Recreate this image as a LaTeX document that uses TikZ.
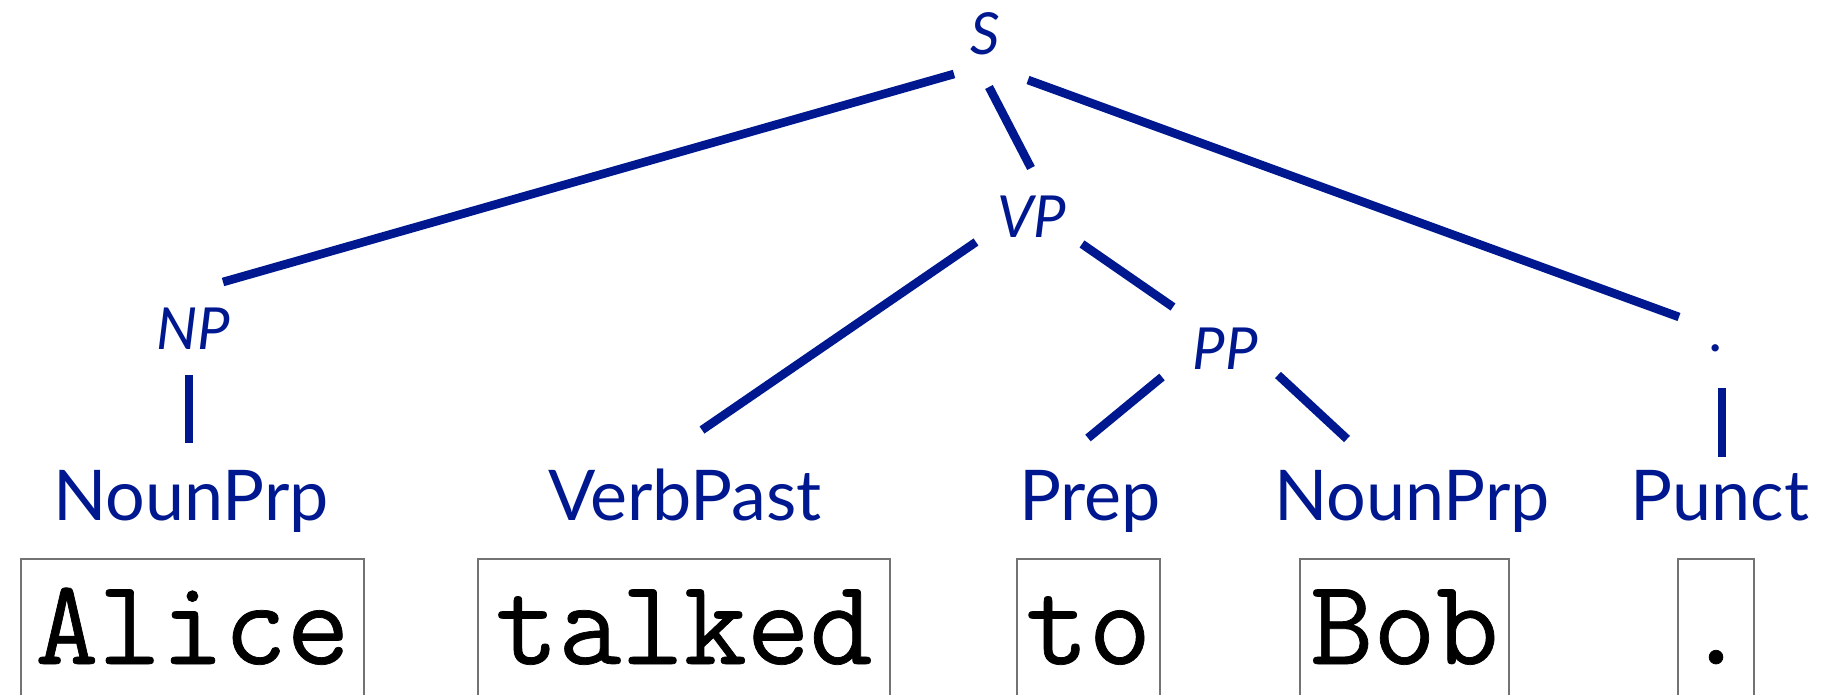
\documentclass[tikz,border=0pt]{standalone}
\usepackage{fontspec}
\setmainfont{Lato}
\newfontfamily\wordfont{Latin Modern Mono}[FakeBold=0.6]
\usepackage{xcolor}
\usepackage{tikz}
\usetikzlibrary{calc}
\definecolor{treeblue}{RGB}{0,24,143}

\begin{document}
\begin{tikzpicture}[
    x=0.5pt, y=-0.5pt,
    phrase/.style={anchor=base,inner sep=0pt,text=treeblue,
        font=\itshape\fontsize{29}{29}\selectfont},
    tag/.style={anchor=base,inner sep=0pt,text=treeblue,
        font=\fontsize{35}{35}\selectfont},
    word/.style={draw=black!55,line width=1pt,anchor=base,inner sep=0pt,
        text height=52.5pt,text depth=40pt,font=\wordfont\fontsize{61}{61}\selectfont},
    edge/.style={draw=treeblue,line width=4.3pt}
]
\useasboundingbox (0,0) rectangle (1837,695);
\clip (0,0) rectangle (1837,695);

% phrase labels
\node[phrase] (S) at (985,55) {S};
\node[phrase] (VP) at (1032,238) {VP};
\node[phrase] (NP) at (193,350) {NP};
\node[phrase] (PP) at (1225,370) {PP};
\node[phrase] (dot) at (1717,351) {.};

% part-of-speech tags
\node[tag] (nounA) at (191,520) {NounPrp};
\node[tag] (verb) at (685,520) {VerbPast};
\node[tag] (prep) at (1090,520) {Prep};
\node[tag] (nounB) at (1412,520) {NounPrp};
\node[tag] (punct) at (1720,520) {Punct};

% the words
\node[word,minimum width=171.5pt] (alice) at (192.5,664) {Alice};
\node[word,minimum width=206pt] (talked) at (684,664) {talked};
\node[word,minimum width=71.5pt] (to) at (1088.5,664) {to};
\node[word,minimum width=104.5pt] (bob) at (1404.5,664) {Bob};
\node[word,minimum width=38pt] (stop) at (1716,664) {.};

% tree edges
\draw[edge] ($(S.base)+(-31,19)$) -- ($(NP.base)+(30,-68)$);
\draw[edge] ($(S.base)+(4,32)$) -- ($(VP.base)+(-1,-70)$);
\draw[edge] ($(S.base)+(43,25)$) -- ($(dot.base)+(-38,-34)$);
\draw[edge] ($(VP.base)+(-56,4)$) -- ($(verb.base)+(17,-90)$);
\draw[edge] ($(VP.base)+(50,6)$) -- ($(PP.base)+(-52,-63)$);
\draw[edge] ($(PP.base)+(-63,7)$) -- ($(prep.base)+(-2,-82)$);
\draw[edge] ($(PP.base)+(53,5)$) -- ($(nounB.base)+(-65,-81)$);
\draw[edge] ($(NP.base)+(-4,25)$) -- ($(nounA.base)+(-2,-77)$);
\draw[edge] ($(dot.base)+(5,37)$) -- ($(punct.base)+(2,-63)$);
\end{tikzpicture}
\end{document}
